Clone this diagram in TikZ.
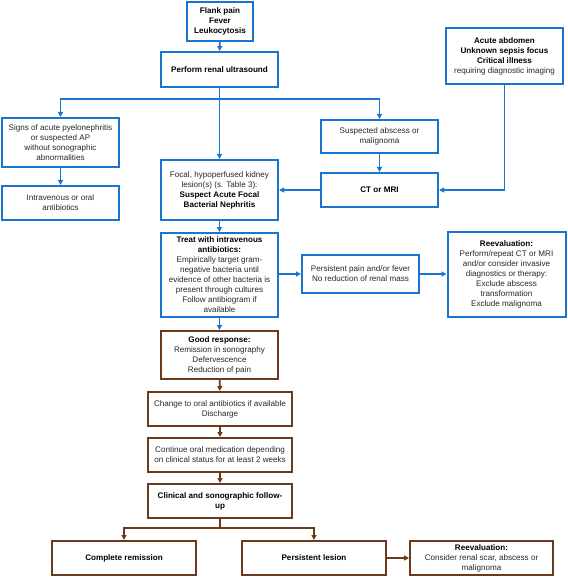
\documentclass[tikz,border=0pt]{standalone}
\usepackage{fontspec}
\setmainfont{Liberation Sans}
\usepackage{tikz}
\usetikzlibrary{arrows.meta}

\definecolor{flowblue}{RGB}{26,117,207}
\definecolor{flowbrown}{RGB}{107,58,28}
\definecolor{textgrey}{RGB}{40,40,40}

\tikzset{
  box/.style={draw=flowblue, line width=2pt, fill=white, align=center, inner sep=2pt,
    text=textgrey, font=\fontsize{8.1}{10}\selectfont},
  bbox/.style={box, draw=flowbrown},
  link/.style={-{Triangle[length=5pt,width=5pt]}, line width=1.8pt, draw=flowblue},
  blink/.style={link, draw=flowbrown}
}

\begin{document}
\begin{tikzpicture}[x=1pt, y=-1pt]

\useasboundingbox (0,0) rectangle (567,577);

	\node (Flank)[box, minimum width=66pt, minimum height=39pt] at (220,21.5) {\textbf{\color{black}Flank pain}\\ \textbf{\color{black}Fever}\\ \textbf{\color{black}Leukocytosis}};
	\node (Ultra)[box, minimum width=117pt, minimum height=35pt] at (219.5,69.5) {\textbf{\color{black}Perform renal ultrasound}};
	\node (Signs)[box, minimum width=117pt, minimum height=49pt] at (60.5,142.5) {Signs of acute pyelonephritis\\ or suspected AP\\ without sonographic\\ abnormalities};
	\node (IvOral)[box, minimum width=117pt, minimum height=34pt] at (60.5,203) {Intravenous or oral\\ antibiotics};
	\node (Focal)[box, minimum width=117pt, minimum height=60pt] at (219.5,190) {Focal, hypoperfused kidney\\ lesion(s) (s. Table 3):\\ \textbf{\color{black}Suspect Acute Focal}\\ \textbf{\color{black}Bacterial Nephritis}};
	\node (Acute)[box, minimum width=117pt, minimum height=56pt] at (504.5,56) {\textbf{\color{black}Acute abdomen}\\ \textbf{\color{black}Unknown sepsis focus}\\ \textbf{\color{black}Critical illness}\\ requiring diagnostic imaging};
	\node (Abscess)[box, minimum width=117pt, minimum height=33pt] at (379.5,136.5) {Suspected abscess or\\ malignoma};
	\node (CtMri)[box, minimum width=117pt, minimum height=34pt] at (379.5,190) {\textbf{\color{black}CT or MRI}};
	\node (Treat)[box, minimum width=117pt, minimum height=84pt] at (219.5,275) {\textbf{\color{black}Treat with intravenous}\\ \textbf{\color{black}antibiotics:}\\ Empirically target gram-\\ negative bacteria until\\ evidence of other bacteria is\\ present through cultures\\ Follow antibiogram if\\ available};
	\node (Persist)[box, minimum width=117pt, minimum height=38pt] at (360.5,274) {Persistent pain and/or fever\\ No reduction of renal mass};
	\node (Reeval)[box, minimum width=118pt, minimum height=85pt] at (506.5,274.5) {\textbf{\color{black}Reevaluation:}\\ Perform/repeat CT or MRI\\ and/or consider invasive\\ diagnostics or therapy:\\ Exclude abscess\\ transformation\\ Exclude malignoma};

	\node (Good)[bbox, minimum width=117pt, minimum height=48pt] at (219.5,355) {\textbf{\color{black}Good response:}\\ Remission in sonography\\ Defervescence\\ Reduction of pain};
	\node (Change)[bbox, minimum width=144pt, minimum height=34pt] at (220,409) {Change to oral antibiotics if available\\ Discharge};
	\node (Cont)[bbox, minimum width=144pt, minimum height=34pt] at (220,455) {Continue oral medication depending\\ on clinical status for at least 2 weeks};
	\node (Clin)[bbox, minimum width=144pt, minimum height=34pt] at (220,501) {\textbf{\color{black}Clinical and sonographic follow-}\\ \textbf{\color{black}up}};
	\node (Compl)[bbox, minimum width=144pt, minimum height=34pt] at (124,558) {\textbf{\color{black}Complete remission}};
	\node (Lesion)[bbox, minimum width=144pt, minimum height=34pt] at (314,558) {\textbf{\color{black}Persistent lesion}};
	\node (Reeval2)[bbox, minimum width=143pt, minimum height=34pt] at (481.5,558) {\textbf{\color{black}Reevaluation:}\\ Consider renal scar, abscess or\\ malignoma};

	\coordinate (Split1) at (219.5,99);
	\coordinate (Split2) at (220,528);

	\draw [link] (Flank) to (Ultra);
	\draw [link] (Ultra) -- (Split1) -| (Signs);
	\draw [link] (Split1) -| (Abscess);
	\draw [link] (Ultra) to (Focal);
	\draw [link] (Signs) to (IvOral);
	\draw [link] (Abscess) to (CtMri);
	\draw [link] (Acute) |- (CtMri);
	\draw [link] (CtMri) to (Focal);
	\draw [link] (Focal) to (Treat);
	\draw [link] (Treat.east |- Persist) to (Persist);
	\draw [link] (Persist) to (Reeval.west |- Persist);
	\draw [link] (Treat) to (Good);

	\draw [blink] (Good) to (Change);
	\draw [blink] (Change) to (Cont);
	\draw [blink] (Cont) to (Clin);
	\draw [blink] (Clin) -- (Split2) -| (Compl);
	\draw [blink] (Split2) -| (Lesion);
	\draw [blink] (Lesion) to (Reeval2);

\end{tikzpicture}
\end{document}
